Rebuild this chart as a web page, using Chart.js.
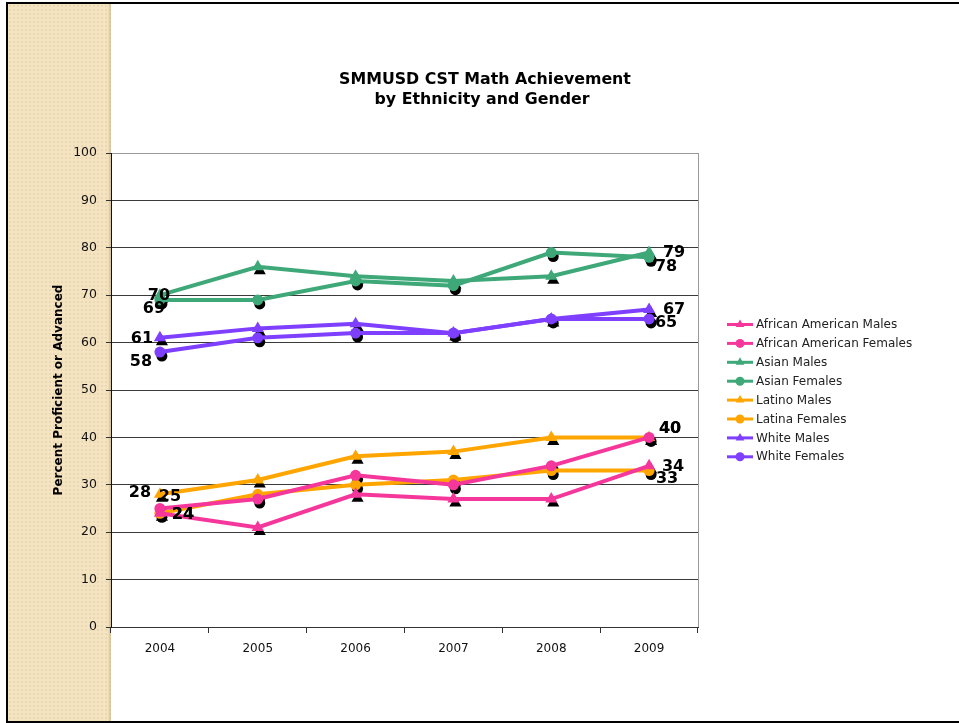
<!DOCTYPE html>
<html>
<head>
<meta charset="utf-8">
<script src="https://cdn.jsdelivr.net/npm/chart.js@4"></script>
<style>
  html, body { margin: 0; padding: 0; background: #fff; overflow: hidden; width: 959px; height: 723px; }
  #frame {
    position: absolute; left: 6px; top: 2px; width: 953px; height: 717px;
    border-top: 2px solid #000; border-left: 2px solid #000; border-bottom: 2px solid #000;
    border-right: none;
    background: #fff;
  }
  #strip {
    position: absolute; left: 0; top: 0; width: 103px; height: 100%;
    background-color: #f5e4c2;
    background-image: radial-gradient(circle, #ecd8b0 1px, transparent 1.5px);
    background-size: 4px 4px;
    box-shadow: inset -3px 0 2px -1px #d9c69f;
  }
  #chart { position: absolute; left: 0; top: 0; }
</style>
</head>
<body>
<div id="frame"><div id="strip"></div></div>
<canvas id="chart" width="959" height="723"></canvas>
<script>
// years on the x axis
const years = ["2004", "2005", "2006", "2007", "2008", "2009"];
const yTicks = [0, 10, 20, 30, 40, 50, 60, 70, 80, 90, 100];

// percent proficient or advanced
const africanAmericanMales   = [24, 21, 28, 27, 27, 34];
const africanAmericanFemales = [25, 27, 32, 30, 34, 40];
const asianMales             = [70, 76, 74, 73, 74, 79];
const asianFemales           = [69, 69, 73, 72, 79, 78];
const latinoMales            = [28, 31, 36, 37, 40, 40];
const latinaFemales          = [24, 28, 30, 31, 33, 33];
const whiteMales             = [61, 63, 64, 62, 65, 67];
const whiteFemales           = [58, 61, 62, 62, 65, 65];

const PINK = '#f5379b', GREEN = '#3ea879', ORANGE = '#ffa500', PURPLE = '#7f3fff';
const FONT = '"DejaVu Sans", Verdana, sans-serif';

// where the end labels sit relative to their point: [first, last] as [dx, dy]
const labelOffsets = [
  [[23, 2], [24, 1]],
  [[10, -12], [21, -9]],
  [[-1, 1], [25, 0]],
  [[-6, 9], [17, 10]],
  [[-20, -1], [21, -9]],
  [[23, 2], [18, 8]],
  [[-18, 1], [25, 0]],
  [[-19, 10], [17, 4]],
];

function series(label, data, color, style) {
  return {
    label, data,
    borderColor: color, backgroundColor: color,
    borderWidth: 4, tension: 0,
    pointStyle: style,
    pointRadius: style === 'triangle' ? 7 : 5.5,
    pointBorderWidth: 0,
    pointBackgroundColor: color,
  };
}

const datasets = [
  series('African American Males', africanAmericanMales, PINK, 'triangle'),
  series('African American Females', africanAmericanFemales, PINK, 'circle'),
  series('Asian Males', asianMales, GREEN, 'triangle'),
  series('Asian Females', asianFemales, GREEN, 'circle'),
  series('Latino Males', latinoMales, ORANGE, 'triangle'),
  series('Latina Females', latinaFemales, ORANGE, 'circle'),
  series('White Males', whiteMales, PURPLE, 'triangle'),
  series('White Females', whiteFemales, PURPLE, 'circle'),
];

// black marker shadows, drawn under the lines
const shadowPlugin = {
  id: 'shadows',
  beforeDatasetsDraw(chart) {
    const ctx = chart.ctx;
    ctx.save();
    chart.data.datasets.forEach((ds, i) => {
      chart.getDatasetMeta(i).data.forEach(pt => {
        ctx.fillStyle = '#000';
        ctx.strokeStyle = '#000';
        Chart.helpers.drawPoint(ctx, {pointStyle: ds.pointStyle, radius: ds.pointRadius, rotation: 0, borderWidth: 0}, pt.x + 2, pt.y + 4);
      });
    });
    ctx.restore();
  }
};

const labelPlugin = {
  id: 'endLabels',
  afterDatasetsDraw(chart) {
    const ctx = chart.ctx;
    ctx.save();
    ctx.font = 'bold 16px ' + FONT;
    ctx.fillStyle = '#000';
    ctx.textAlign = 'center';
    ctx.textBaseline = 'middle';
    chart.data.datasets.forEach((ds, i) => {
      const pts = chart.getDatasetMeta(i).data;
      [0, pts.length - 1].forEach((idx, k) => {
        const off = labelOffsets[i][k];
        ctx.fillText(String(ds.data[idx]), pts[idx].x + off[0], pts[idx].y + off[1]);
      });
    });
    ctx.restore();
  }
};

const framePlugin = {
  id: 'frame',
  afterDraw(chart) {
    const ctx = chart.ctx, a = chart.chartArea;
    ctx.save();
    // right edge of the plot
    ctx.strokeStyle = '#9a9a9a';
    ctx.lineWidth = 1;
    ctx.beginPath();
    ctx.moveTo(a.right + 0.5, a.top);
    ctx.lineTo(a.right + 0.5, a.bottom);
    ctx.stroke();

    // title
    ctx.fillStyle = '#000';
    ctx.font = 'bold 15.8px ' + FONT;
    ctx.textAlign = 'center';
    ctx.textBaseline = 'middle';
    ctx.fillText('SMMUSD CST Math Achievement', 485, 80);
    ctx.fillText('by Ethnicity and Gender', 482, 100);

    // legend: line with marker, then label
    const lx = a.right + 29, ly = 324.5, step = 18.9;
    chart.data.datasets.forEach((ds, i) => {
      const y = ly + i * step;
      ctx.strokeStyle = ds.borderColor;
      ctx.lineWidth = 3;
      ctx.beginPath();
      ctx.moveTo(lx, y);
      ctx.lineTo(lx + 26, y);
      ctx.stroke();
      ctx.fillStyle = ds.borderColor;
      Chart.helpers.drawPoint(ctx, {pointStyle: ds.pointStyle, radius: ds.pointStyle === 'triangle' ? 5 : 4.5, rotation: 0, borderWidth: 0}, lx + 13, y);
      ctx.fillStyle = '#222';
      ctx.font = '12px ' + FONT;
      ctx.textAlign = 'left';
      ctx.fillText(ds.label, lx + 29, y + 0.5);
    });
    ctx.restore();
  }
};

new Chart(document.getElementById('chart'), {
  type: 'line',
  data: { labels: years, datasets },
  plugins: [shadowPlugin, labelPlugin, framePlugin],
  options: {
    responsive: false,
    animation: false,
    devicePixelRatio: 1,
    layout: { padding: { left: 48, top: 153, right: 261, bottom: 46 } },
    plugins: { legend: { display: false }, title: { display: false }, tooltip: { enabled: false } },
    scales: {
      x: {
        offset: true,
        afterFit: s => { s.height = 50; },
        grid: { offset: true, drawOnChartArea: false, drawTicks: true, tickLength: 6, color: '#333' },
        border: { color: '#333', width: 1 },
        ticks: { color: '#111', font: { family: FONT, size: 12 }, padding: 9 },
      },
      y: {
        min: 0, max: 100,
        afterFit: s => { s.width = 63; },
        afterBuildTicks: s => { s.ticks = yTicks.map(v => ({ value: v })); },
        grid: {
          color: c => c.tick && c.tick.value === 100 ? '#9a9a9a' : '#3a3a3a',
          tickColor: '#333', tickLength: 5, lineWidth: 1,
        },
        border: { color: '#111', width: 1 },
        ticks: { color: '#111', font: { family: FONT, size: 12.5 }, padding: 9 },
        title: {
          display: true, text: 'Percent Proficient or Advanced',
          color: '#000', font: { family: FONT, size: 12, weight: 'bold' },
        },
      },
    },
  },
});
</script>
</body>
</html>
